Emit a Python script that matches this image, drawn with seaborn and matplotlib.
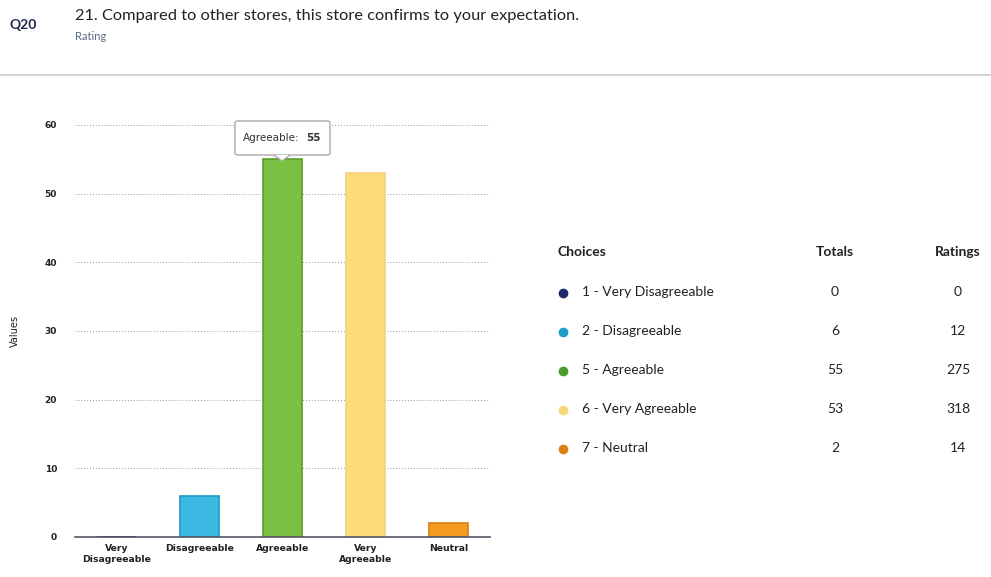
import matplotlib
matplotlib.use("Agg")
import matplotlib.pyplot as plt
import seaborn as sns
import pandas as pd
from matplotlib.patches import FancyBboxPatch, Polygon

categories = ["Very\nDisagreeable", "Disagreeable", "Agreeable", "Very\nAgreeable", "Neutral"]
values = [0, 6, 55, 53, 2]
bar_colors = ["#262B6E", "#3BB9E3", "#7AC143", "#FCDC7B", "#F39C1F"]
edge_colors = ["#1A1F55", "#1E9BC4", "#5A9E2A", "#F5D27A", "#D9800F"]

choices = ["1 - Very Disagreeable", "2 - Disagreeable", "5 - Agreeable", "6 - Very Agreeable", "7 - Neutral"]
totals = [0, 6, 55, 53, 2]
ratings = [0, 12, 275, 318, 14]
dot_colors = ["#1F2A6B", "#1E9CC8", "#4C9A2A", "#F5D77C", "#D9820F"]
yticks = [0, 10, 20, 30, 40, 50, 60]

sns.set_theme(style="white")
plt.rcParams["font.family"] = ["Lato", "DejaVu Sans"]

W, H = 991, 577
fig = plt.figure(figsize=(W / 100, H / 100), dpi=100)

def fx(px):
    return px / W

def fy(py):
    return 1 - py / H

ax = fig.add_axes([fx(75), fy(537), fx(490) - fx(75), fy(125) - fy(537)])
df = pd.DataFrame({"cat": categories, "val": values})
sns.barplot(data=df, x="cat", y="val", hue="cat", palette=bar_colors, legend=False,
            width=0.46, ax=ax, saturation=1)
for p, ec in zip(ax.patches, edge_colors):
    p.set_edgecolor(ec)
    p.set_linewidth(1.2)

ax.set_ylim(0, 60)
ax.set_xlim(-0.5, 4.5)
ax.set_yticks(yticks)
ax.set_yticklabels([str(t) for t in yticks], fontsize=6.5, fontweight="bold",
                   family="DejaVu Sans", color="#222222")
ax.set_xticks(range(len(categories)))
ax.set_xticklabels(categories, fontsize=6.7, fontweight="bold", family="DejaVu Sans",
                   color="#222222", linespacing=1.3)
ax.tick_params(axis="y", length=0, pad=13)
ax.tick_params(axis="x", length=0, pad=5)
for t in yticks[1:]:
    ax.axhline(t, color="#999999", linestyle=(0, (1, 2)), linewidth=0.7, zorder=0)
for s in ["top", "right", "left"]:
    ax.spines[s].set_visible(False)
ax.spines["bottom"].set_color("#555566")
ax.spines["bottom"].set_linewidth(1.2)
ax.set_xlabel("")
ax.set_ylabel("Values", fontsize=7, family="DejaVu Sans", color="#222222", labelpad=18)
ax.set_facecolor("white")

# tooltip
bx0, bx1, by0, by1 = fx(235), fx(330), fy(155), fy(121)
tip = FancyBboxPatch((bx0, by0), bx1 - bx0, by1 - by0, boxstyle="round,pad=0,rounding_size=0.003",
                     transform=fig.transFigure, facecolor="white", edgecolor="#AAAAAA",
                     linewidth=1.0, zorder=10)
fig.patches.append(tip)
tri = Polygon([[fx(274), fy(155)], [fx(282), fy(161)], [fx(290), fy(155)]], closed=False,
              transform=fig.transFigure, facecolor="white", edgecolor="#AAAAAA",
              linewidth=1.0, zorder=11)
fig.patches.append(tri)
fig.text(fx(243), fy(138), "Agreeable:", fontsize=7.5, family="DejaVu Sans", color="#333333",
         va="center", ha="left", zorder=12)
fig.text(fx(306), fy(138), f"{values[2]}", fontsize=7.5, family="DejaVu Sans", fontweight="bold",
         color="#333333", va="center", ha="left", zorder=12)

# header
fig.text(fx(10), fy(25), "Q20", fontsize=10, color="#1F2A4A", va="center", ha="left", fontweight="bold")
fig.text(fx(75), fy(16), "21. Compared to other stores, this store confirms to your expectation.",
         fontsize=11.8, color="#222222", va="center", ha="left")
fig.text(fx(75), fy(36), "Rating", fontsize=8, color="#5A6B8A", va="center", ha="left")
fig.add_artist(plt.Line2D([0, 1], [fy(75), fy(75)], transform=fig.transFigure,
                          color="#CCCCCC", linewidth=1.2))

# table
hy = fy(252)
fig.text(fx(557), hy, "Choices", fontsize=10, fontweight="bold", color="#222222", va="center", ha="left")
fig.text(fx(835), hy, "Totals", fontsize=10, fontweight="bold", color="#222222", va="center", ha="center")
fig.text(fx(958), hy, "Ratings", fontsize=10, fontweight="bold", color="#222222", va="center", ha="center")
row_y = [292, 331, 370, 409, 448]
for ry, ch, tot, rat, dc in zip(row_y, choices, totals, ratings, dot_colors):
    fig.add_artist(plt.Line2D([fx(563)], [fy(ry + 1)], marker="o", markersize=6,
                              color=dc, transform=fig.transFigure, linestyle="none"))
    fig.text(fx(582), fy(ry), ch, fontsize=10, color="#222222", va="center", ha="left")
    fig.text(fx(835), fy(ry), str(tot), fontsize=10, color="#222222", va="center", ha="center")
    fig.text(fx(958), fy(ry), str(rat), fontsize=10, color="#222222", va="center", ha="center")

fig.savefig("out.png", dpi=100, facecolor="white")
